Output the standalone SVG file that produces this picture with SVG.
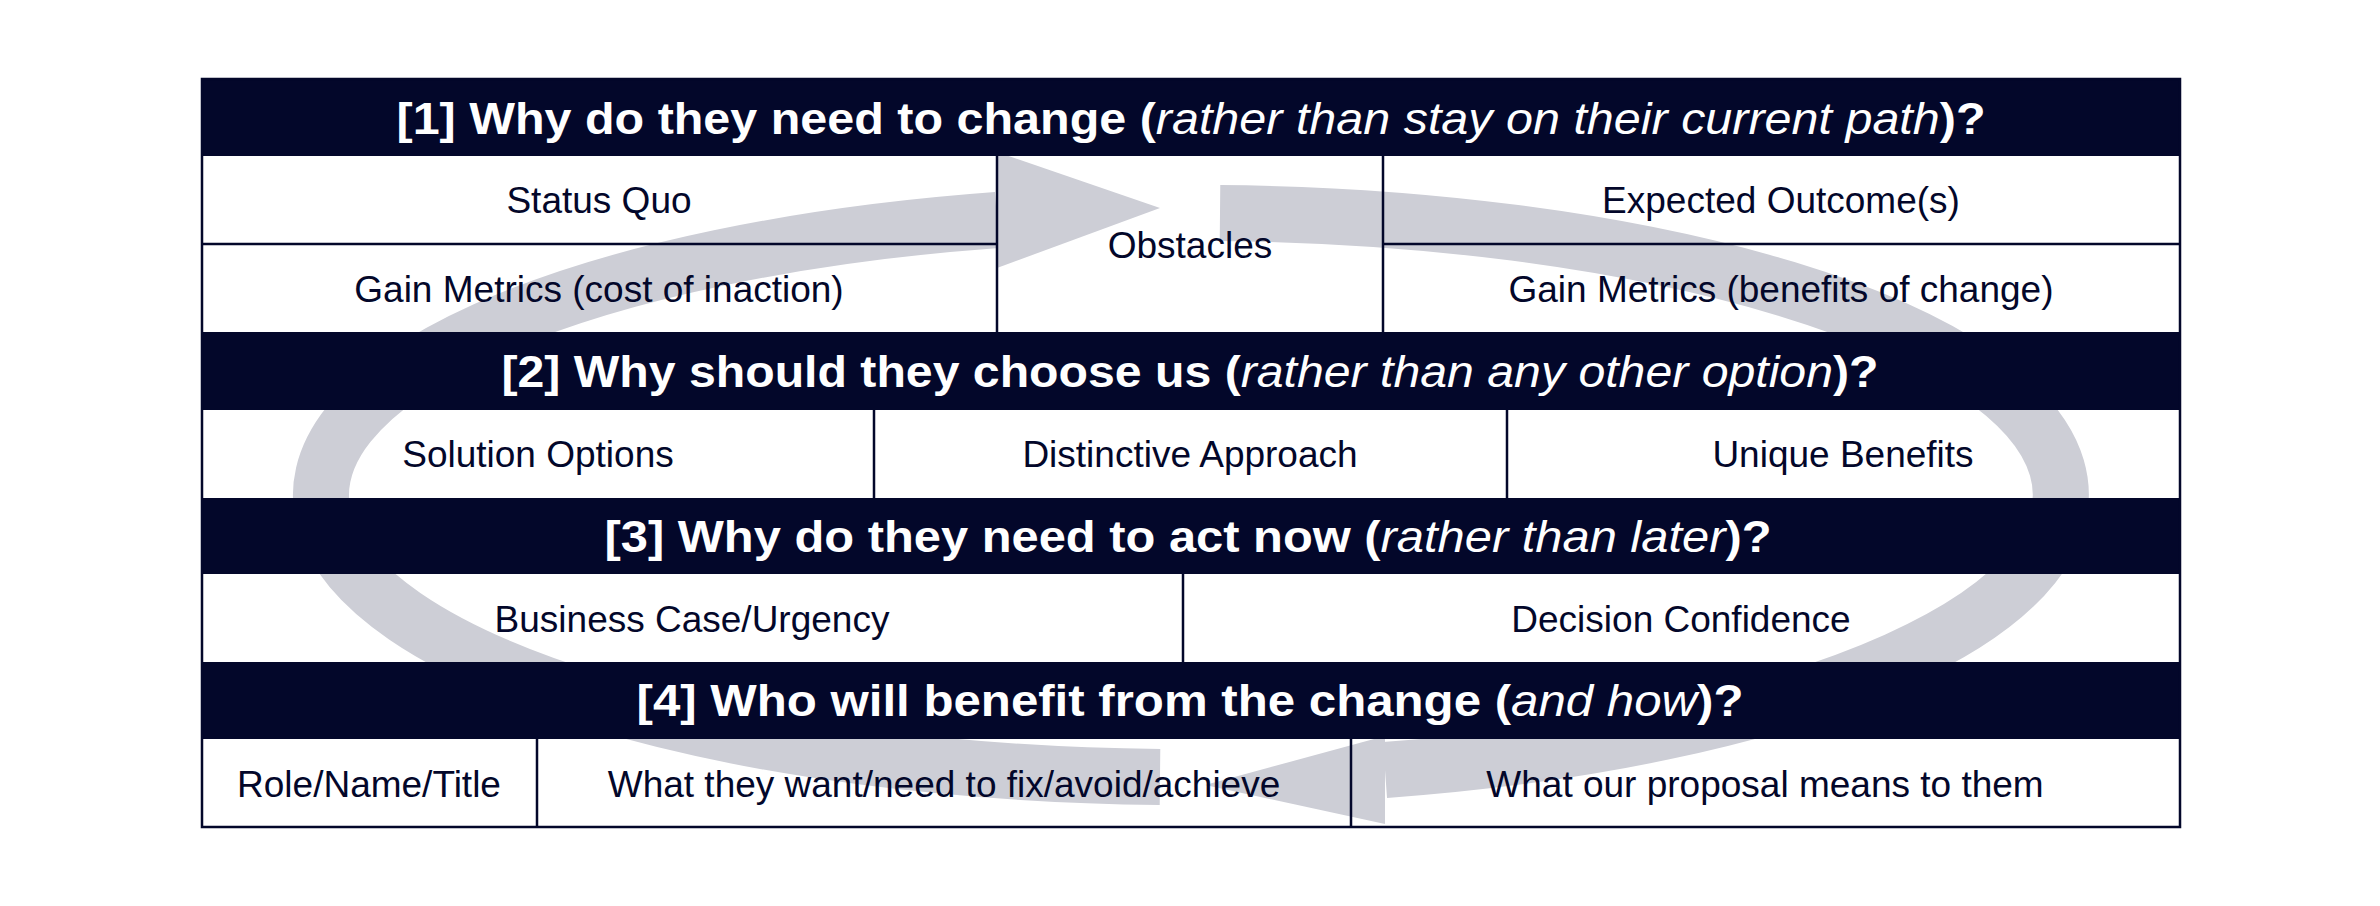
<svg xmlns="http://www.w3.org/2000/svg" width="2380" height="906" viewBox="0 0 2380 906">
<style>
.hd{fill:#03072a}
.ln{stroke:#03072a;stroke-width:2.5;fill:none}
.ht{font-family:"Liberation Sans",Arial,sans-serif;font-weight:bold;font-size:44px;fill:#fff;text-anchor:middle;dominant-baseline:central}
.it{font-style:italic;font-weight:normal}
.bt{font-family:"Liberation Sans",Arial,sans-serif;font-size:37px;fill:#03072a;text-anchor:middle;dominant-baseline:central}
.arc{fill:none;stroke:#cdced6;stroke-width:56}
.head{fill:#cdced6}
</style>
<rect width="2380" height="906" fill="#fff"/>
<g id="connectors">
<path class="arc" d="M1160,777 A866,282 0 0 1 997,220"/>
<polygon class="head" points="997,152 1160,208 997,268"/>
<path class="arc" d="M1220,213 A866,282 0 0 1 1385,770"/>
<polygon class="head" points="1385,736 1205,785 1385,824"/>
</g>
<g id="header1"><rect class="hd" x="202" y="79" width="1978" height="77"/><text class="ht" x="1191" y="118" textLength="1589" lengthAdjust="spacingAndGlyphs">[1] Why do they need to change (<tspan class="it">rather than stay on their current path</tspan>)?</text></g>
<g id="header2"><rect class="hd" x="202" y="332" width="1978" height="78"/><text class="ht" x="1190" y="371" textLength="1377" lengthAdjust="spacingAndGlyphs">[2] Why should they choose us (<tspan class="it">rather than any other option</tspan>)?</text></g>
<g id="header3"><rect class="hd" x="202" y="498" width="1978" height="76"/><text class="ht" x="1188" y="536" textLength="1167" lengthAdjust="spacingAndGlyphs">[3] Why do they need to act now (<tspan class="it">rather than later</tspan>)?</text></g>
<g id="header4"><rect class="hd" x="202" y="662" width="1978" height="77"/><text class="ht" x="1190" y="700" textLength="1107" lengthAdjust="spacingAndGlyphs">[4] Who will benefit from the change (<tspan class="it">and how</tspan>)?</text></g>
<g id="grid">
<rect class="ln" x="202" y="79" width="1978" height="748"/>
<line class="ln" x1="202" y1="244" x2="997" y2="244"/>
<line class="ln" x1="1383" y1="244" x2="2180" y2="244"/>
<line class="ln" x1="997" y1="156" x2="997" y2="332"/>
<line class="ln" x1="1383" y1="156" x2="1383" y2="332"/>
<line class="ln" x1="874" y1="410" x2="874" y2="498"/>
<line class="ln" x1="1507" y1="410" x2="1507" y2="498"/>
<line class="ln" x1="1183" y1="574" x2="1183" y2="662"/>
<line class="ln" x1="537" y1="739" x2="537" y2="827"/>
<line class="ln" x1="1351" y1="739" x2="1351" y2="827"/>
</g>
<g id="status-quo"><text class="bt" x="599" y="200">Status Quo</text></g>
<g id="gain-cost"><text class="bt" x="599" y="289">Gain Metrics (cost of inaction)</text></g>
<g id="obstacles"><text class="bt" x="1190" y="245">Obstacles</text></g>
<g id="expected"><text class="bt" x="1781" y="200">Expected Outcome(s)</text></g>
<g id="gain-benefit"><text class="bt" x="1781" y="289">Gain Metrics (benefits of change)</text></g>
<g id="solution"><text class="bt" x="538" y="454">Solution Options</text></g>
<g id="distinctive"><text class="bt" x="1190" y="454">Distinctive Approach</text></g>
<g id="unique"><text class="bt" x="1843" y="454">Unique Benefits</text></g>
<g id="business"><text class="bt" x="692" y="619">Business Case/Urgency</text></g>
<g id="decision"><text class="bt" x="1681" y="619">Decision Confidence</text></g>
<g id="role"><text class="bt" x="369" y="784">Role/Name/Title</text></g>
<g id="want"><text class="bt" x="944" y="784">What they want/need to fix/avoid/achieve</text></g>
<g id="means"><text class="bt" x="1765" y="784">What our proposal means to them</text></g>
</svg>
